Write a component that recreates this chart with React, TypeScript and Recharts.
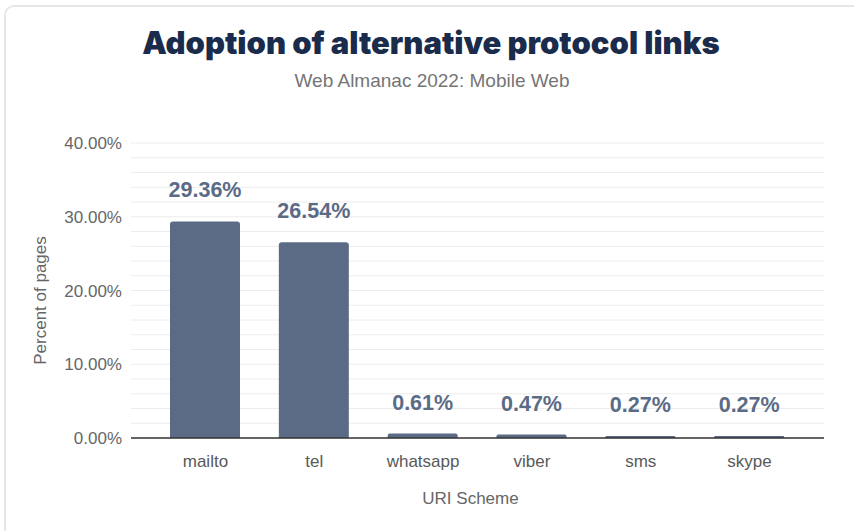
import { BarChart, Bar, XAxis, YAxis, CartesianGrid, LabelList, Label } from "recharts";

const schemes = ["mailto", "tel", "whatsapp", "viber", "sms", "skype"];
const percentOfPages = [29.36, 26.54, 0.61, 0.47, 0.27, 0.27];
const yTicks = [0, 2, 4, 6, 8, 10, 12, 14, 16, 18, 20, 22, 24, 26, 28, 30, 32, 34, 36, 38, 40];

const data = schemes.map((scheme, i) => ({ scheme, value: percentOfPages[i] }));

const font = '"Liberation Sans", Arial, Helvetica, sans-serif';

export default function App() {
  return (
    <div
      style={{
        position: "absolute",
        left: 0,
        top: 0,
        width: 854,
        height: 531,
        background: "#fff",
        overflow: "hidden",
        fontFamily: font,
      }}
    >
      {/* card outline */}
      <div
        style={{
          position: "absolute",
          left: 4,
          top: 5,
          width: 870,
          height: 560,
          border: "2px solid #e6e6e6",
          borderRadius: 10,
          boxSizing: "border-box",
        }}
      />
      <div
        style={{
          position: "absolute",
          left: 0,
          top: 24,
          width: 862,
          textAlign: "center",
          fontFamily: "Inter, sans-serif",
          fontWeight: 900,
          fontSize: 31,
          color: "#1a2b4b",
        }}
      >
        Adoption of alternative protocol links
      </div>
      <div
        style={{
          position: "absolute",
          left: 0,
          top: 70,
          width: 864,
          textAlign: "center",
          fontSize: 19,
          color: "#757575",
        }}
      >
        Web Almanac 2022: Mobile Web
      </div>
      <div style={{ position: "absolute", left: 0, top: 0 }}>
        <BarChart
          width={854}
          height={531}
          data={data}
          margin={{ top: 143, right: 30, left: 51, bottom: 53 }}
        >
          <CartesianGrid vertical={false} stroke="#ececec" />
          <XAxis
            dataKey="scheme"
            axisLine={{ stroke: "#333", strokeWidth: 1.5 }}
            tickLine={false}
            height={40}
            padding={{ left: 20, right: 20 }}
            tick={{ fill: "#595959", fontSize: 17, fontFamily: font }}
            tickMargin={11}
          >
            <Label
              value="URI Scheme"
              position="bottom"
              offset={14}
              dx={-7}
              style={{ fill: "#666", fontSize: 17, fontFamily: font }}
            />
          </XAxis>
          <YAxis
            width={80}
            domain={[0, 40]}
            ticks={yTicks}
            interval={0}
            axisLine={false}
            tickLine={false}
            tickMargin={3}
            tickFormatter={(v: number) => (v % 10 === 0 ? `${v.toFixed(2)}%` : "")}
            tick={{ fill: "#666", fontSize: 17, fontFamily: font }}
          >
            <Label
              value="Percent of pages"
              angle={-90}
              position="center"
              dx={-51}
              dy={10}
              style={{ fill: "#666", fontSize: 17, fontFamily: font, textAnchor: "middle" }}
            />
          </YAxis>
          <Bar
            dataKey="value"
            fill="#5b6b86"
            barSize={70}
            radius={[3, 3, 0, 0]}
            isAnimationActive={false}
          >
            <LabelList
              dataKey="value"
              position="top"
              offset={24}
              formatter={(v: number) => `${v.toFixed(2)}%`}
              style={{ fill: "#5b6b86", fontSize: 21.5, fontWeight: 700, fontFamily: font }}
            />
          </Bar>
        </BarChart>
      </div>
    </div>
  );
}
